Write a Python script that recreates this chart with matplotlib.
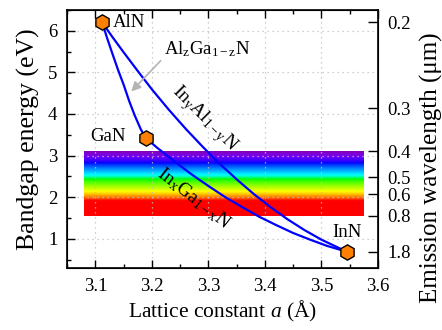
import numpy as np
import matplotlib
matplotlib.use("Agg")
import matplotlib.pyplot as plt
from matplotlib.ticker import MultipleLocator

plt.rcParams["font.family"] = "serif"
plt.rcParams["font.serif"] = ["Liberation Serif", "DejaVu Serif"]
plt.rcParams["mathtext.fontset"] = "custom"
plt.rcParams["mathtext.rm"] = "Liberation Serif"
plt.rcParams["mathtext.it"] = "Liberation Serif:italic"

# binary end points (lattice constant in angstrom, bandgap in eV)
compounds = ["AlN", "GaN", "InN"]
a_bin = [3.112, 3.189, 3.545]
eg_bin = [6.20, 3.42, 0.69]

# ternary curves
a_algan = [3.112, 3.120, 3.130, 3.140, 3.150, 3.160, 3.170, 3.180, 3.189]
eg_algan = [6.20, 5.85, 5.45, 5.06, 4.70, 4.30, 3.95, 3.64, 3.42]

a_inaln = [3.112, 3.130, 3.150, 3.175, 3.200, 3.230, 3.260, 3.290, 3.320,
           3.350, 3.380, 3.410, 3.440, 3.470, 3.500, 3.545]
eg_inaln = [6.20, 5.85, 5.48, 5.03, 4.59, 4.10, 3.64, 3.21, 2.80,
            2.43, 2.08, 1.76, 1.47, 1.21, 0.98, 0.69]

a_ingan = [3.189, 3.210, 3.240, 3.270, 3.300, 3.330, 3.360, 3.390, 3.420,
           3.450, 3.480, 3.510, 3.545]
eg_ingan = [3.42, 3.18, 2.86, 2.55, 2.27, 2.00, 1.76, 1.53, 1.33,
            1.14, 0.98, 0.83, 0.69]

# right axis: emission wavelength in um
wl_ticks = [0.2, 0.3, 0.4, 0.5, 0.6, 0.8, 1.8]
wl_labels = ["0.2", "0.3", "0.4", "0.5", "0.6", "0.8", "1.8"]

# visible band
band_wl = [0.4, 0.8]
band_a = [3.08, 3.575]

hc = 1.24  # eV um


def wl_to_rgb(w):
    # w in nm, simple visible spectrum approximation
    if w < 440:
        r, g, b = -(w - 440) / 60, 0.0, 1.0
    elif w < 490:
        r, g, b = 0.0, (w - 440) / 50, 1.0
    elif w < 510:
        r, g, b = 0.0, 1.0, -(w - 510) / 20
    elif w < 580:
        r, g, b = (w - 510) / 70, 1.0, 0.0
    elif w < 645:
        r, g, b = 1.0, -(w - 645) / 65, 0.0
    else:
        r, g, b = 1.0, 0.0, 0.0
    f = 1.0
    if w < 420:
        f = 0.3 + 0.7 * (w - 380) / 40
    return [(r * f) ** 0.8, (g * f) ** 0.8, (b * f) ** 0.8]


fig = plt.figure(figsize=(4.42, 3.30), dpi=100)
ax = fig.add_axes([0.152, 0.188, 0.703, 0.782])

# rainbow band
e_top = hc / band_wl[0]
e_bot = hc / band_wl[1]
e_rows = np.linspace(e_top, e_bot, 300)
img = np.array([[wl_to_rgb(1000 * hc / e)] for e in e_rows])
ax.imshow(img, extent=[band_a[0], band_a[1], e_bot, e_top], aspect="auto",
          origin="upper", zorder=0.5, interpolation="bilinear")

ax.plot(a_algan, eg_algan, color="#0000ff", lw=1.6, zorder=3)
ax.plot(a_inaln, eg_inaln, color="#0000ff", lw=1.6, zorder=3)
ax.plot(a_ingan, eg_ingan, color="#0000ff", lw=1.6, zorder=3)
ax.plot(a_bin, eg_bin, ls="none", marker="h", ms=11, mfc="#ff8000",
        mec="black", mew=1.0, zorder=4)

# labels for the binaries
ax.text(3.130, 6.20, "AlN", fontsize=13.5, va="center", ha="left")
ax.text(3.153, 3.45, "GaN", fontsize=13.5, va="center", ha="right")
ax.text(3.545, 1.16, "InN", fontsize=13.5, va="center", ha="center")

# ternary labels
ax.text(3.222, 5.55, r"Al$_{\rm z}$Ga$_{\rm 1-z}$N", fontsize=13.5,
        va="center", ha="left")
ax.annotate("", xy=(3.160, 4.49), xytext=(3.219, 5.33),
            arrowprops=dict(arrowstyle="-|>", color="#b4b4b4", lw=1.2,
                            mutation_scale=14))
ax.text(3.292, 3.88, r"In$_{\rm y}$Al$_{\rm 1-y}$N", fontsize=14,
        va="center", ha="center", rotation=-45)
ax.text(3.274, 1.98, r"In$_{\rm x}$Ga$_{\rm 1-x}$N", fontsize=14,
        va="center", ha="center", rotation=-38)

ax.set_xlim(3.05, 3.6)
ax.set_ylim(0.3, 6.5)
ax.xaxis.set_major_locator(MultipleLocator(0.1))
ax.xaxis.set_minor_locator(MultipleLocator(0.05))
ax.yaxis.set_major_locator(MultipleLocator(1))
ax.yaxis.set_minor_locator(MultipleLocator(0.5))
ax.set_xticks([3.1, 3.2, 3.3, 3.4, 3.5, 3.6])
ax.set_yticks([1, 2, 3, 4, 5, 6])
ax.tick_params(which="both", direction="in", top=True, right=False,
               labelsize=13.5, width=1.0)
ax.tick_params(which="major", length=6)
ax.tick_params(which="minor", length=3)
ax.tick_params(axis="x", pad=7)
ax.tick_params(axis="y", pad=7)
ax.grid(True, which="major", color="#c0c0c0", ls=(0, (1, 3)), lw=0.9)
for s in ax.spines.values():
    s.set_linewidth(1.2)

ax.set_xlabel(r"Lattice constant $a$ ($\rm\AA$)", fontsize=15.5, labelpad=3)
ax.set_ylabel("Bandgap energy (eV)", fontsize=18.5, labelpad=6)

ax2 = ax.twinx()
ax2.set_ylim(ax.get_ylim())
ax2.set_yticks([hc / w for w in wl_ticks])
ax2.set_yticklabels(wl_labels)
ax2.yaxis.set_minor_locator(plt.NullLocator())
ax2.tick_params(direction="in", length=7, width=1.0, labelsize=13.5, pad=7)
ax2.set_ylabel("Emission wavelength (\u03bcm)", fontsize=18)
ax2.yaxis.set_label_coords(1.135, 0.39)

fig.savefig("out.png", dpi=100)
